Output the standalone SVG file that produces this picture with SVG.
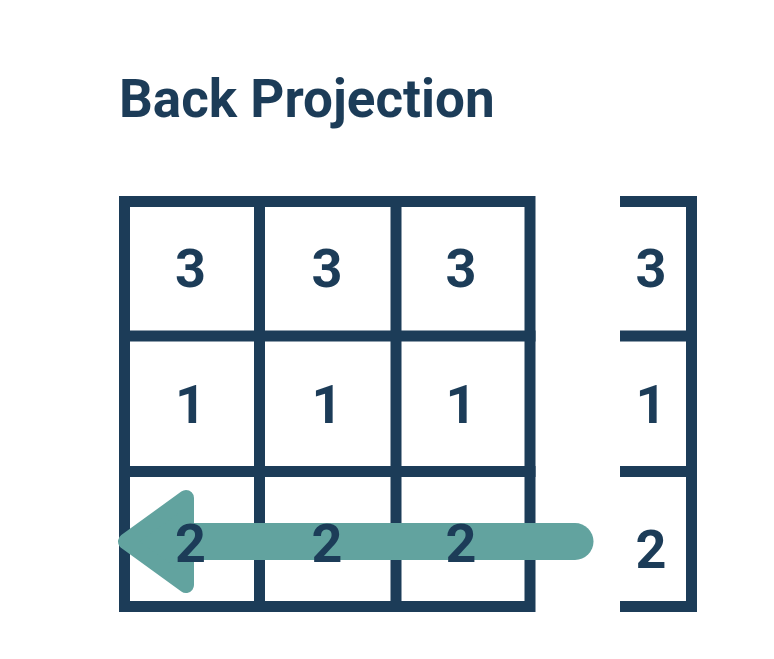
<svg xmlns="http://www.w3.org/2000/svg" width="774" height="659" viewBox="0 0 774 659">
<style>
.ln{stroke:#1c3c58;stroke-width:11;fill:none;stroke-linecap:square}
.lb{stroke:#1c3c58;stroke-width:11;fill:none;stroke-linecap:butt}
.d{font-family:Roboto,"Liberation Sans",sans-serif;font-weight:bold;font-size:54px;fill:#1c3c58;text-anchor:middle}
.t{font-family:Roboto,"Liberation Sans",sans-serif;font-weight:bold;font-size:53px;fill:#1c3c58}
</style>
<rect width="774" height="659" fill="#ffffff"/>
<text class="t" x="119" y="117">Back Projection</text>
<g id="grid">
<path class="ln" d="M124.5 201.5H530V606.5H124.5Z"/>
<path class="ln" d="M259.5 201.5V606.5M396 201.5V606.5M124.5 336H530M124.5 471.5H530"/>
</g>
<g id="projection">
<path class="lb" d="M620 201.5H691.5V606.5H620M620 336H691.5M620 471.5H691.5"/>
</g>
<g id="connectors">
<path d="M190 541.5H575" stroke="#62a39f" stroke-width="37" stroke-linecap="round" fill="none"/>
<path d="M186 498 L126 541.5 L186 585 Z" fill="#62a39f" stroke="#62a39f" stroke-width="16" stroke-linejoin="round"/>
</g>
<g id="values">
<text class="d" x="190.5" y="287">3</text>
<text class="d" x="327" y="287">3</text>
<text class="d" x="461" y="287">3</text>
<text class="d" x="651" y="287">3</text>
<text class="d" x="190.5" y="423">1</text>
<text class="d" x="327" y="423">1</text>
<text class="d" x="461" y="423">1</text>
<text class="d" x="651" y="423">1</text>
<text class="d" x="190.5" y="562">2</text>
<text class="d" x="327" y="562">2</text>
<text class="d" x="461" y="562">2</text>
<text class="d" x="651" y="568">2</text>
</g>
</svg>
